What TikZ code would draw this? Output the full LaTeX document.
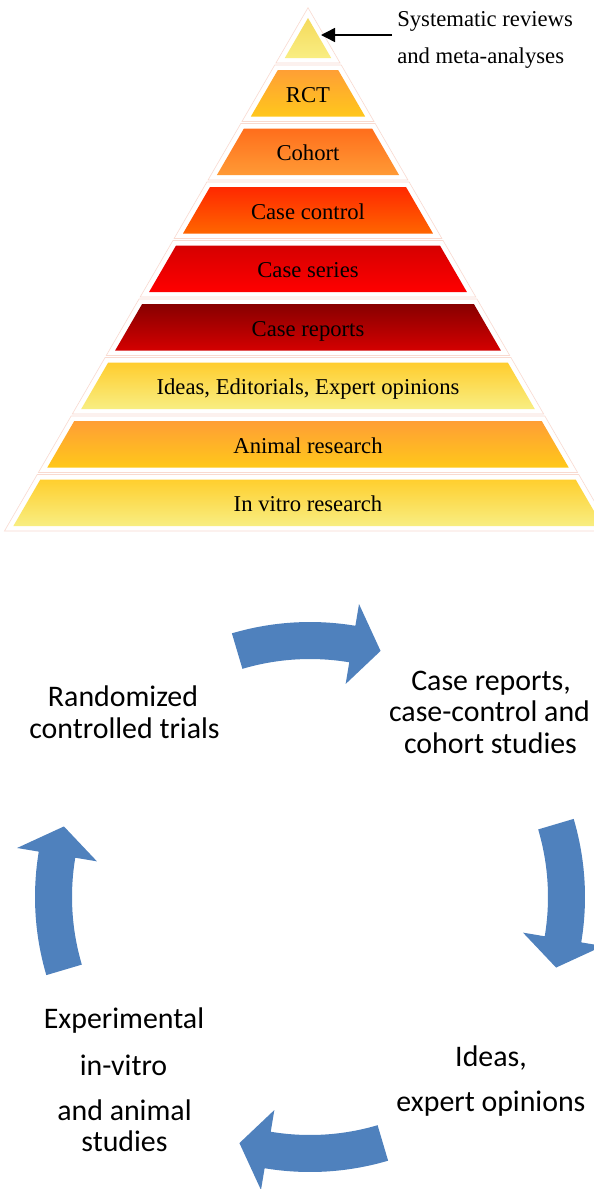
\documentclass[tikz,border=0pt]{standalone}
\usepackage{fontspec}
\setmainfont{Liberation Serif}
\newfontfamily\cyclefont{Carlito}
\usetikzlibrary{arrows.meta}
\definecolor{cycblue}{HTML}{4F81BD}
\definecolor{edgepink}{RGB}{249,218,208}
\definecolor{apexT}{RGB}{245,218,92}
\definecolor{apexB}{RGB}{249,238,130}
\definecolor{rctT}{RGB}{255,159,53}
\definecolor{rctB}{RGB}{255,199,28}
\definecolor{cohT}{RGB}{255,110,28}
\definecolor{cohB}{RGB}{255,154,53}
\definecolor{ccT}{RGB}{255,40,0}
\definecolor{ccB}{RGB}{255,102,0}
\definecolor{csT}{RGB}{213,0,0}
\definecolor{csB}{RGB}{255,0,0}
\definecolor{crT}{RGB}{135,0,0}
\definecolor{crB}{RGB}{212,0,0}
\definecolor{ideT}{RGB}{255,205,46}
\definecolor{ideB}{RGB}{248,238,130}
\definecolor{aniT}{RGB}{255,158,53}
\definecolor{aniB}{RGB}{255,200,26}
\definecolor{vitT}{RGB}{255,207,46}
\definecolor{vitB}{RGB}{248,238,130}
\tikzset{
  pyrtext/.style={anchor=base, inner sep=0pt, font=\fontsize{17}{20}\selectfont},
  cyctext/.style={anchor=base, inner sep=0pt, font=\cyclefont\fontsize{22.4}{26}\selectfont},
  cyc/.style={fill=cycblue},
  pyredge/.style={draw=edgepink, line width=0.45pt, fill=white},
}
% layer: #1 top y, #2 bottom y, #3 top colour, #4 bottom colour, #5 name, #6 label
\newcommand\pyrlayer[6]{%
  \path[pyredge] ({308-0.58*(#1-5-18)-6},#1-5) -- ({308+0.58*(#1-5-18)+6},#1-5)
     -- ({308+0.58*(#2+5-18)+6},#2+5) -- ({308-0.58*(#2+5-18)-6},#2+5) -- cycle;
  \path[top color=#3, bottom color=#4] ({308-0.58*(#1-18)},#1) -- ({308+0.58*(#1-18)},#1)
     -- ({308+0.58*(#2-18)},#2) -- ({308-0.58*(#2-18)},#2) -- cycle;
  \node[pyrtext] (#5) at (308,{(#1+#2)/2+9}) {#6};
}
\newcommand\cycarrow[1]{%
  \fill[cyc] (#1:275) arc[start angle=#1, end angle={#1-26}, radius=275]
    -- ({#1-26}:297) -- ({#1-32.5}:256) -- ({#1-26}:216) -- ({#1-26}:238)
    arc[start angle={#1-26}, end angle=#1, radius=238] -- cycle;
}
\begin{document}
\begin{tikzpicture}[x=0.75pt, y=-0.75pt]
\useasboundingbox[fill=white] (0,0) rectangle (593,1189);
% apex
\path[pyredge] (308,7.7) -- ({308+0.58*(63-18)+6},63) -- ({308-0.58*(63-18)-6},63) -- cycle;
\path[top color=apexT, bottom color=apexB]
  (308,18) -- ({308+0.58*40},58) -- ({308-0.58*40},58) -- cycle;
\coordinate (apextip) at (321,35);
\pyrlayer{70}{116.5}{rctT}{rctB}{l1}{RCT}
\pyrlayer{128.5}{175}{cohT}{cohB}{l2}{Cohort}
\pyrlayer{187}{233.5}{ccT}{ccB}{l3}{Case control}
\pyrlayer{245.5}{292}{csT}{csB}{l4}{Case series}
\pyrlayer{304}{350.5}{crT}{crB}{l5}{Case reports}
\pyrlayer{362.5}{409}{ideT}{ideB}{l6}{Ideas, Editorials, Expert opinions}
\pyrlayer{421}{467.5}{aniT}{aniB}{l7}{Animal research}
\pyrlayer{479.5}{526}{vitT}{vitB}{l8}{In vitro research}
% label of the apex
\begin{scope}
  \clip (385,0) rectangle (593,67.5);
  \node[pyrtext, anchor=base west] (sr1) at (397,26) {Systematic reviews};
  \node[pyrtext, anchor=base west] (sr2) at (397,63.3) {and meta-analyses};
\end{scope}
\coordinate (srstart) at (392,35);
\draw[line width=1.1pt, -{Triangle[length=10.5pt, width=10.5pt]}] (srstart) -- (apextip);
% cycle
\begin{scope}[shift={(310,897)}, y=0.75pt]
  \cycarrow{106.5}
  \cycarrow{16.5}
  \cycarrow{-73.5}
  \cycarrow{196.5}
\end{scope}
\node[cyctext] (rct1) at (123,706) {Randomized};
\node[cyctext] (rct2) at (124.5,738.3) {controlled trials};
\node[cyctext] (cr1) at (491,690.7) {Case reports,};
\node[cyctext] (cr2) at (489.5,721.7) {case-control and};
\node[cyctext] (cr3) at (490.5,753.3) {cohort studies};
\node[cyctext] (ex1) at (124,1028.3) {Experimental};
\node[cyctext] (ex2) at (123.5,1075) {in-vitro};
\node[cyctext] (ex3) at (124.5,1120) {and animal};
\node[cyctext] (ex4) at (124.5,1151.7) {studies};
\node[cyctext] (id1) at (491,1066) {Ideas,};
\node[cyctext] (id2) at (491,1111) {expert opinions};
\end{tikzpicture}
\end{document}
